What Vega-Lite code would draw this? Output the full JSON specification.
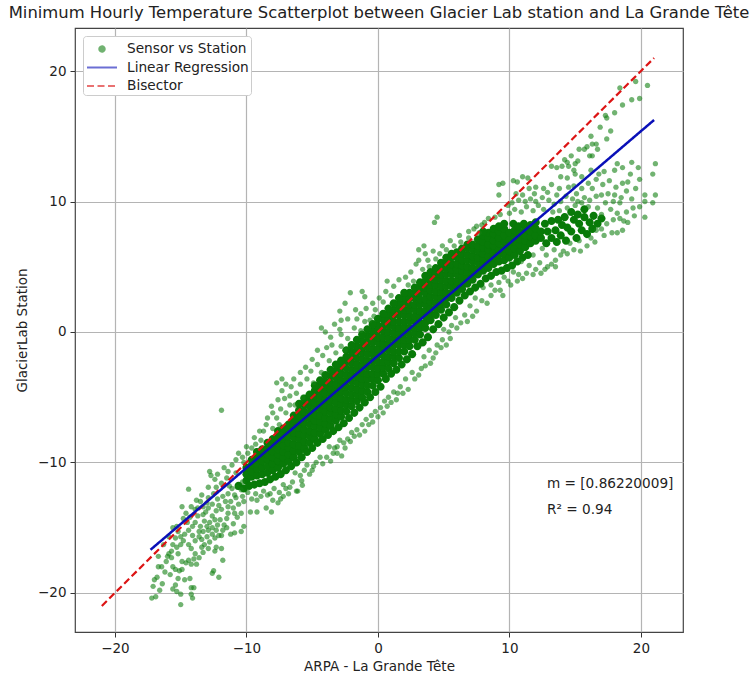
{"$schema":"https://vega.github.io/schema/vega-lite/v6.json","width":608,"height":604,"autosize":"none","padding":{"left":75,"top":28,"right":68,"bottom":45},"background":"white",
"title":{"text":"Minimum Hourly Temperature Scatterplot between Glacier Lab station and La Grande Tête","font":"DejaVu Sans","fontSize":16.4,"fontWeight":"normal","color":"#222","offset":7,"anchor":"middle"},
"config":{"font":"DejaVu Sans","view":{"stroke":"#444","strokeWidth":1.2}},
"datasets":{
"core":[
{"x":-10.0,"y":-11.4},{"x":-10.0,"y":-10.9},{"x":-10.0,"y":-10.4},{"x":-9.6,"y":-11.1},{"x":-9.6,"y":-10.7},{"x":-9.6,"y":-10.2},{"x":-9.6,"y":-9.8},{"x":-9.2,"y":-11.0},{"x":-9.2,"y":-10.5},{"x":-9.2,"y":-10.1},{"x":-9.2,"y":-9.6},{"x":-9.2,"y":-9.2},{"x":-8.8,"y":-10.9},{"x":-8.8,"y":-10.4},{"x":-8.8,"y":-9.9},{"x":-8.8,"y":-9.5},{"x":-8.8,"y":-9.0},{"x":-8.4,"y":-10.8},{"x":-8.4,"y":-10.3},{"x":-8.4,"y":-9.8},{"x":-8.4,"y":-9.4},{"x":-8.4,"y":-8.9},{"x":-8.4,"y":-8.5},{"x":-8.0,"y":-10.6},{"x":-8.0,"y":-10.1},{"x":-8.0,"y":-9.6},{"x":-8.0,"y":-9.2},{"x":-8.0,"y":-8.7},{"x":-8.0,"y":-8.2},{"x":-7.6,"y":-10.4},{"x":-7.6,"y":-9.9},{"x":-7.6,"y":-9.4},{"x":-7.6,"y":-9.0},{"x":-7.6,"y":-8.5},{"x":-7.6,"y":-8.1},{"x":-7.6,"y":-7.6},{"x":-7.2,"y":-10.1},{"x":-7.2,"y":-9.6},{"x":-7.2,"y":-9.2},{"x":-7.2,"y":-8.7},{"x":-7.2,"y":-8.2},{"x":-7.2,"y":-7.8},{"x":-7.2,"y":-7.4},{"x":-6.8,"y":-9.9},{"x":-6.8,"y":-9.4},{"x":-6.8,"y":-8.9},{"x":-6.8,"y":-8.5},{"x":-6.8,"y":-8.0},{"x":-6.8,"y":-7.5},{"x":-6.8,"y":-7.1},{"x":-6.4,"y":-9.6},{"x":-6.4,"y":-9.1},{"x":-6.4,"y":-8.6},{"x":-6.4,"y":-8.1},{"x":-6.4,"y":-7.7},{"x":-6.4,"y":-7.2},{"x":-6.4,"y":-6.8},{"x":-6.4,"y":-6.4},{"x":-6.0,"y":-9.2},{"x":-6.0,"y":-8.7},{"x":-6.0,"y":-8.2},{"x":-6.0,"y":-7.8},{"x":-6.0,"y":-7.3},{"x":-6.0,"y":-6.9},{"x":-6.0,"y":-6.4},{"x":-6.0,"y":-6.0},{"x":-5.6,"y":-8.9},{"x":-5.6,"y":-8.4},{"x":-5.6,"y":-7.9},{"x":-5.6,"y":-7.5},{"x":-5.6,"y":-7.0},{"x":-5.6,"y":-6.6},{"x":-5.6,"y":-6.1},{"x":-5.6,"y":-5.6},{"x":-5.2,"y":-8.5},{"x":-5.2,"y":-8.0},{"x":-5.2,"y":-7.6},{"x":-5.2,"y":-7.1},{"x":-5.2,"y":-6.6},{"x":-5.2,"y":-6.2},{"x":-5.2,"y":-5.7},{"x":-5.2,"y":-5.3},{"x":-4.8,"y":-8.2},{"x":-4.8,"y":-7.7},{"x":-4.8,"y":-7.2},{"x":-4.8,"y":-6.8},{"x":-4.8,"y":-6.3},{"x":-4.8,"y":-5.8},{"x":-4.8,"y":-5.4},{"x":-4.8,"y":-4.9},{"x":-4.8,"y":-4.5},{"x":-4.4,"y":-7.8},{"x":-4.4,"y":-7.3},{"x":-4.4,"y":-6.9},{"x":-4.4,"y":-6.4},{"x":-4.4,"y":-5.9},{"x":-4.4,"y":-5.5},{"x":-4.4,"y":-5.0},{"x":-4.4,"y":-4.5},{"x":-4.4,"y":-4.1},{"x":-4.0,"y":-7.5},{"x":-4.0,"y":-7.0},{"x":-4.0,"y":-6.6},{"x":-4.0,"y":-6.1},{"x":-4.0,"y":-5.6},{"x":-4.0,"y":-5.2},{"x":-4.0,"y":-4.7},{"x":-4.0,"y":-4.2},{"x":-4.0,"y":-3.8},{"x":-3.6,"y":-7.2},{"x":-3.6,"y":-6.7},{"x":-3.6,"y":-6.2},{"x":-3.6,"y":-5.8},{"x":-3.6,"y":-5.3},{"x":-3.6,"y":-4.8},{"x":-3.6,"y":-4.4},{"x":-3.6,"y":-3.9},{"x":-3.6,"y":-3.4},{"x":-3.2,"y":-6.8},{"x":-3.2,"y":-6.3},{"x":-3.2,"y":-5.9},{"x":-3.2,"y":-5.4},{"x":-3.2,"y":-4.9},{"x":-3.2,"y":-4.5},{"x":-3.2,"y":-4.0},{"x":-3.2,"y":-3.5},{"x":-3.2,"y":-3.0},{"x":-2.8,"y":-6.5},{"x":-2.8,"y":-6.0},{"x":-2.8,"y":-5.5},{"x":-2.8,"y":-5.1},{"x":-2.8,"y":-4.6},{"x":-2.8,"y":-4.1},{"x":-2.8,"y":-3.7},{"x":-2.8,"y":-3.2},{"x":-2.8,"y":-2.7},{"x":-2.4,"y":-6.1},{"x":-2.4,"y":-5.6},{"x":-2.4,"y":-5.2},{"x":-2.4,"y":-4.7},{"x":-2.4,"y":-4.2},{"x":-2.4,"y":-3.7},{"x":-2.4,"y":-3.3},{"x":-2.4,"y":-2.8},{"x":-2.4,"y":-2.3},{"x":-2.4,"y":-1.9},{"x":-2.0,"y":-5.7},{"x":-2.0,"y":-5.2},{"x":-2.0,"y":-4.8},{"x":-2.0,"y":-4.3},{"x":-2.0,"y":-3.8},{"x":-2.0,"y":-3.3},{"x":-2.0,"y":-2.9},{"x":-2.0,"y":-2.4},{"x":-2.0,"y":-1.9},{"x":-2.0,"y":-1.5},{"x":-1.6,"y":-5.3},{"x":-1.6,"y":-4.8},{"x":-1.6,"y":-4.4},{"x":-1.6,"y":-3.9},{"x":-1.6,"y":-3.4},{"x":-1.6,"y":-2.9},{"x":-1.6,"y":-2.5},{"x":-1.6,"y":-2.0},{"x":-1.6,"y":-1.5},{"x":-1.6,"y":-1.1},{"x":-1.2,"y":-5.0},{"x":-1.2,"y":-4.5},{"x":-1.2,"y":-4.0},{"x":-1.2,"y":-3.6},{"x":-1.2,"y":-3.1},{"x":-1.2,"y":-2.6},{"x":-1.2,"y":-2.1},{"x":-1.2,"y":-1.6},{"x":-1.2,"y":-1.2},{"x":-1.2,"y":-0.7},{"x":-0.8,"y":-4.6},{"x":-0.8,"y":-4.1},{"x":-0.8,"y":-3.6},{"x":-0.8,"y":-3.2},{"x":-0.8,"y":-2.7},{"x":-0.8,"y":-2.2},{"x":-0.8,"y":-1.7},{"x":-0.8,"y":-1.2},{"x":-0.8,"y":-0.8},{"x":-0.8,"y":-0.3},{"x":-0.4,"y":-4.1},{"x":-0.4,"y":-3.6},{"x":-0.4,"y":-3.2},{"x":-0.4,"y":-2.7},{"x":-0.4,"y":-2.2},{"x":-0.4,"y":-1.7},{"x":-0.4,"y":-1.3},{"x":-0.4,"y":-0.8},{"x":-0.4,"y":-0.3},{"x":-0.4,"y":0.1},{"x":0.0,"y":-3.7},{"x":0.0,"y":-3.2},{"x":0.0,"y":-2.8},{"x":0.0,"y":-2.3},{"x":0.0,"y":-1.8},{"x":0.0,"y":-1.3},{"x":0.0,"y":-0.8},{"x":0.0,"y":-0.4},{"x":0.0,"y":0.1},{"x":0.0,"y":0.5},{"x":0.4,"y":-3.2},{"x":0.4,"y":-2.7},{"x":0.4,"y":-2.3},{"x":0.4,"y":-1.8},{"x":0.4,"y":-1.3},{"x":0.4,"y":-0.9},{"x":0.4,"y":-0.4},{"x":0.4,"y":0.1},{"x":0.4,"y":0.5},{"x":0.4,"y":1.0},{"x":0.8,"y":-2.8},{"x":0.8,"y":-2.3},{"x":0.8,"y":-1.9},{"x":0.8,"y":-1.4},{"x":0.8,"y":-0.9},{"x":0.8,"y":-0.5},{"x":0.8,"y":0.0},{"x":0.8,"y":0.5},{"x":0.8,"y":0.9},{"x":0.8,"y":1.4},{"x":1.2,"y":-2.4},{"x":1.2,"y":-1.9},{"x":1.2,"y":-1.5},{"x":1.2,"y":-1.0},{"x":1.2,"y":-0.5},{"x":1.2,"y":-0.1},{"x":1.2,"y":0.4},{"x":1.2,"y":0.8},{"x":1.2,"y":1.3},{"x":1.2,"y":1.7},{"x":1.6,"y":-2.0},{"x":1.6,"y":-1.5},{"x":1.6,"y":-1.0},{"x":1.6,"y":-0.6},{"x":1.6,"y":-0.1},{"x":1.6,"y":0.3},{"x":1.6,"y":0.8},{"x":1.6,"y":1.3},{"x":1.6,"y":1.7},{"x":1.6,"y":2.1},{"x":2.0,"y":-1.5},{"x":2.0,"y":-1.0},{"x":2.0,"y":-0.6},{"x":2.0,"y":-0.1},{"x":2.0,"y":0.4},{"x":2.0,"y":0.8},{"x":2.0,"y":1.3},{"x":2.0,"y":1.7},{"x":2.0,"y":2.2},{"x":2.0,"y":2.6},{"x":2.4,"y":-1.1},{"x":2.4,"y":-0.6},{"x":2.4,"y":-0.2},{"x":2.4,"y":0.3},{"x":2.4,"y":0.8},{"x":2.4,"y":1.2},{"x":2.4,"y":1.7},{"x":2.4,"y":2.1},{"x":2.4,"y":2.6},{"x":2.4,"y":3.0},{"x":2.8,"y":-0.6},{"x":2.8,"y":-0.1},{"x":2.8,"y":0.3},{"x":2.8,"y":0.8},{"x":2.8,"y":1.2},{"x":2.8,"y":1.7},{"x":2.8,"y":2.1},{"x":2.8,"y":2.6},{"x":2.8,"y":3.0},{"x":2.8,"y":3.4},{"x":3.2,"y":-0.2},{"x":3.2,"y":0.3},{"x":3.2,"y":0.7},{"x":3.2,"y":1.2},{"x":3.2,"y":1.6},{"x":3.2,"y":2.1},{"x":3.2,"y":2.5},{"x":3.2,"y":3.0},{"x":3.2,"y":3.4},{"x":3.2,"y":3.8},{"x":3.6,"y":0.3},{"x":3.6,"y":0.7},{"x":3.6,"y":1.2},{"x":3.6,"y":1.6},{"x":3.6,"y":2.1},{"x":3.6,"y":2.5},{"x":3.6,"y":3.0},{"x":3.6,"y":3.4},{"x":3.6,"y":3.9},{"x":3.6,"y":4.3},{"x":4.0,"y":0.9},{"x":4.0,"y":1.4},{"x":4.0,"y":1.8},{"x":4.0,"y":2.3},{"x":4.0,"y":2.7},{"x":4.0,"y":3.2},{"x":4.0,"y":3.6},{"x":4.0,"y":4.1},{"x":4.0,"y":4.6},{"x":4.4,"y":1.3},{"x":4.4,"y":1.8},{"x":4.4,"y":2.2},{"x":4.4,"y":2.7},{"x":4.4,"y":3.1},{"x":4.4,"y":3.6},{"x":4.4,"y":4.0},{"x":4.4,"y":4.5},{"x":4.4,"y":4.9},{"x":4.8,"y":1.7},{"x":4.8,"y":2.2},{"x":4.8,"y":2.6},{"x":4.8,"y":3.1},{"x":4.8,"y":3.5},{"x":4.8,"y":4.0},{"x":4.8,"y":4.4},{"x":4.8,"y":4.9},{"x":4.8,"y":5.3},{"x":5.2,"y":2.1},{"x":5.2,"y":2.6},{"x":5.2,"y":3.0},{"x":5.2,"y":3.5},{"x":5.2,"y":3.9},{"x":5.2,"y":4.4},{"x":5.2,"y":4.8},{"x":5.2,"y":5.3},{"x":5.2,"y":5.7},{"x":5.6,"y":2.6},{"x":5.6,"y":3.0},{"x":5.6,"y":3.5},{"x":5.6,"y":3.9},{"x":5.6,"y":4.4},{"x":5.6,"y":4.8},{"x":5.6,"y":5.2},{"x":5.6,"y":5.7},{"x":5.6,"y":6.0},{"x":6.0,"y":3.0},{"x":6.0,"y":3.5},{"x":6.0,"y":3.9},{"x":6.0,"y":4.4},{"x":6.0,"y":4.8},{"x":6.0,"y":5.2},{"x":6.0,"y":5.7},{"x":6.0,"y":6.1},{"x":6.4,"y":3.3},{"x":6.4,"y":3.8},{"x":6.4,"y":4.2},{"x":6.4,"y":4.7},{"x":6.4,"y":5.1},{"x":6.4,"y":5.5},{"x":6.4,"y":6.0},{"x":6.4,"y":6.4},{"x":6.8,"y":3.7},{"x":6.8,"y":4.2},{"x":6.8,"y":4.6},{"x":6.8,"y":5.0},{"x":6.8,"y":5.5},{"x":6.8,"y":5.9},{"x":6.8,"y":6.4},{"x":6.8,"y":6.7},{"x":7.2,"y":4.0},{"x":7.2,"y":4.5},{"x":7.2,"y":4.9},{"x":7.2,"y":5.4},{"x":7.2,"y":5.8},{"x":7.2,"y":6.3},{"x":7.2,"y":6.7},{"x":7.6,"y":4.4},{"x":7.6,"y":4.8},{"x":7.6,"y":5.3},{"x":7.6,"y":5.7},{"x":7.6,"y":6.2},{"x":7.6,"y":6.6},{"x":7.6,"y":7.1},{"x":8.0,"y":4.7},{"x":8.0,"y":5.1},{"x":8.0,"y":5.6},{"x":8.0,"y":6.0},{"x":8.0,"y":6.5},{"x":8.0,"y":6.9},{"x":8.0,"y":7.4},{"x":8.4,"y":4.9},{"x":8.4,"y":5.4},{"x":8.4,"y":5.8},{"x":8.4,"y":6.3},{"x":8.4,"y":6.7},{"x":8.4,"y":7.2},{"x":8.4,"y":7.6},{"x":8.8,"y":5.2},{"x":8.8,"y":5.7},{"x":8.8,"y":6.1},{"x":8.8,"y":6.6},{"x":8.8,"y":7.0},{"x":8.8,"y":7.5},{"x":8.8,"y":7.9},{"x":9.2,"y":5.4},{"x":9.2,"y":5.9},{"x":9.2,"y":6.3},{"x":9.2,"y":6.8},{"x":9.2,"y":7.2},{"x":9.2,"y":7.7},{"x":9.6,"y":5.5},{"x":9.6,"y":6.0},{"x":9.6,"y":6.4},{"x":9.6,"y":6.9},{"x":9.6,"y":7.4},{"x":9.6,"y":7.9},{"x":10.0,"y":5.7},{"x":10.0,"y":6.2},{"x":10.0,"y":6.7},{"x":10.0,"y":7.1},{"x":10.0,"y":7.6},{"x":10.4,"y":5.9},{"x":10.4,"y":6.4},{"x":10.4,"y":6.9},{"x":10.4,"y":7.3},{"x":10.4,"y":7.8},{"x":10.8,"y":6.2},{"x":10.8,"y":6.7},{"x":10.8,"y":7.1},{"x":10.8,"y":7.6},{"x":11.2,"y":6.5},{"x":11.2,"y":7.0},{"x":11.2,"y":7.4},{"x":11.2,"y":7.9},{"x":11.6,"y":6.8},{"x":11.6,"y":7.3},{"x":11.6,"y":7.7},{"x":12.0,"y":7.0},{"x":12.0,"y":7.4},{"x":12.0,"y":7.9},{"x":12.4,"y":7.2},{"x":12.4,"y":7.7},{"x":13.5,"y":7.8},{"x":14.0,"y":8.2},{"x":14.4,"y":8.0},{"x":14.9,"y":8.6},{"x":15.3,"y":8.3},{"x":15.7,"y":8.8},{"x":16.1,"y":8.4},{"x":16.4,"y":8.9},
{"x":-10.6,"y":-11.8},{"x":-10.2,"y":-12.0},{"x":-9.8,"y":-11.8},{"x":-9.4,"y":-11.7},{"x":-9.0,"y":-11.6},{"x":-8.6,"y":-11.5},{"x":-8.2,"y":-11.3},{"x":-7.8,"y":-11.1},{"x":-7.4,"y":-10.9},{"x":-7.0,"y":-10.6},{"x":-6.6,"y":-10.3},{"x":-6.2,"y":-10.0},{"x":-5.8,"y":-9.6},{"x":-5.4,"y":-9.2},{"x":-5.0,"y":-8.9},{"x":-4.6,"y":-8.5},{"x":-4.2,"y":-8.2},{"x":-3.8,"y":-7.9},{"x":-3.4,"y":-7.6},{"x":-3.0,"y":-7.3},{"x":-2.6,"y":-7.0},{"x":-2.2,"y":-6.6},{"x":-1.8,"y":-6.2},{"x":-1.4,"y":-5.8},{"x":-1.0,"y":-5.4},{"x":-0.6,"y":-5.0},{"x":-0.2,"y":-4.6},{"x":0.2,"y":-4.2},{"x":0.6,"y":-3.6},{"x":1.0,"y":-3.2},{"x":1.4,"y":-2.9},{"x":1.8,"y":-2.5},{"x":2.2,"y":-2.1},{"x":2.6,"y":-1.7},{"x":3.0,"y":-1.1},{"x":3.4,"y":-0.8},{"x":3.8,"y":-0.4},{"x":4.2,"y":0.2},{"x":4.6,"y":0.6},{"x":5.0,"y":1.1},{"x":5.4,"y":1.5},{"x":5.8,"y":1.9},{"x":6.2,"y":2.4},{"x":6.6,"y":2.8},{"x":7.0,"y":3.1},{"x":7.4,"y":3.4},{"x":7.8,"y":3.7},{"x":8.2,"y":4.1},{"x":8.6,"y":4.3},{"x":9.0,"y":4.6},{"x":9.4,"y":4.7},{"x":9.8,"y":4.9},{"x":10.2,"y":5.1},{"x":10.6,"y":5.4},{"x":11.0,"y":5.7},{"x":11.4,"y":5.9},{"x":-4.0,"y":-3.3},{"x":-3.6,"y":-2.9},{"x":-3.2,"y":-2.5},{"x":-2.8,"y":-2.2},{"x":-2.4,"y":-1.4},{"x":-2.0,"y":-1.0},{"x":-1.6,"y":-0.6},{"x":-1.2,"y":-0.2},{"x":-0.8,"y":0.2},{"x":-0.4,"y":0.6},{"x":0.0,"y":1.0},{"x":0.4,"y":1.4},{"x":0.8,"y":1.8},{"x":1.2,"y":2.2},{"x":1.6,"y":2.6},{"x":2.0,"y":3.0},{"x":-6.0,"y":-5.5},{"x":-5.6,"y":-5.1},{"x":-5.2,"y":-4.8},{"x":-4.8,"y":-4.1},{"x":-4.4,"y":-3.7},{"x":12.8,"y":6.8},{"x":13.2,"y":7.2},{"x":12.9,"y":7.7},{"x":13.6,"y":6.9},{"x":13.9,"y":7.4},{"x":14.3,"y":7.0},{"x":14.7,"y":7.7},{"x":15.1,"y":7.2},{"x":15.5,"y":7.8},{"x":15.9,"y":7.5},{"x":16.3,"y":7.9},{"x":16.7,"y":8.3},{"x":17.0,"y":8.7},{"x":12.7,"y":8.3},{"x":13.2,"y":8.5},{"x":13.7,"y":8.6},{"x":14.2,"y":8.8},{"x":14.7,"y":9.2},{"x":15.2,"y":9.0},{"x":15.7,"y":9.4},{"x":10.3,"y":8.3},{"x":10.7,"y":8.1},{"x":11.1,"y":8.3},{"x":11.6,"y":8.2},{"x":12.0,"y":8.4},{"x":9.2,"y":8.1},{"x":9.6,"y":8.3},{"x":8.0,"y":7.7}
],
"edge":[
{"x":-11.9,"y":-6.0},{"x":-14.4,"y":-12.05},{"x":-14.9,"y":-13.4},{"x":-15.0,"y":-20.9},{"x":-17.2,"y":-20.4},{"x":-16.9,"y":-20.3},{"x":-17.1,"y":-19.5},{"x":-16.6,"y":-19.8},{"x":-16.4,"y":-19.3},{"x":-17.0,"y":-19.0},{"x":-16.8,"y":-18.8},{"x":-16.7,"y":-18.0},{"x":-16.45,"y":-18.0},{"x":-15.8,"y":-18.6},{"x":-15.4,"y":-19.4},{"x":-15.6,"y":-19.7},{"x":-15.3,"y":-19.9},{"x":-15.0,"y":-20.1},{"x":-14.2,"y":-20.1},{"x":-14.1,"y":-20.4},{"x":-14.2,"y":-19.6},{"x":-14.0,"y":-19.6},{"x":-15.2,"y":-18.9},{"x":-14.7,"y":-19.0},{"x":-14.3,"y":-18.9},{"x":-15.4,"y":-18.2},{"x":-15.1,"y":-18.3},{"x":-14.9,"y":-18.2},{"x":-12.1,"y":-18.8},{"x":-12.6,"y":-18.5},{"x":-12.5,"y":-18.3},{"x":-11.8,"y":-17.5},{"x":-11.9,"y":-16.6},{"x":-12.4,"y":-16.8},{"x":-12.3,"y":-16.5},{"x":-16.7,"y":-17.2},{"x":-16.0,"y":-17.2},{"x":-15.9,"y":-17.0},{"x":-15.7,"y":-17.3},{"x":-16.1,"y":-17.6},{"x":-15.6,"y":-16.3},{"x":-15.7,"y":-16.8},{"x":-15.3,"y":-16.5},{"x":-15.2,"y":-17.0},{"x":-15.0,"y":-16.3},{"x":-14.9,"y":-17.6},{"x":-14.6,"y":-17.7},{"x":-14.4,"y":-17.5},{"x":-14.2,"y":-17.8},{"x":-14.0,"y":-17.4},{"x":-13.8,"y":-17.8},{"x":-13.6,"y":-17.3},{"x":-13.3,"y":-16.9},{"x":-15.2,"y":-15.3},{"x":-15.0,"y":-15.7},{"x":-14.7,"y":-15.5},{"x":-14.4,"y":-16.3},{"x":-14.2,"y":-16.6},{"x":-14.1,"y":-15.6},{"x":-13.9,"y":-16.0},{"x":-13.6,"y":-15.7},{"x":-13.4,"y":-15.9},{"x":-13.2,"y":-16.3},{"x":-13.0,"y":-15.7},{"x":-12.8,"y":-16.1},{"x":-12.6,"y":-15.5},{"x":-12.4,"y":-15.8},{"x":-12.1,"y":-15.6},{"x":-11.9,"y":-15.6},{"x":-13.5,"y":-14.9},{"x":-13.2,"y":-14.5},{"x":-13.0,"y":-14.9},{"x":-12.8,"y":-14.6},{"x":-12.6,"y":-15.0},{"x":-12.4,"y":-14.4},{"x":-12.2,"y":-14.8},{"x":-12.0,"y":-14.4},{"x":-11.7,"y":-14.8},{"x":-11.5,"y":-14.3},{"x":-11.8,"y":-15.2},{"x":-10.2,"y":-14.9},{"x":-10.4,"y":-15.3},{"x":-10.9,"y":-15.4},{"x":-11.2,"y":-15.5},{"x":-10.7,"y":-14.2},{"x":-10.4,"y":-13.9},{"x":-13.1,"y":-13.8},{"x":-12.9,"y":-13.5},{"x":-12.6,"y":-13.2},{"x":-12.3,"y":-13.7},{"x":-12.1,"y":-13.3},{"x":-11.9,"y":-13.6},{"x":-11.6,"y":-13.0},{"x":-11.4,"y":-13.4},{"x":-11.2,"y":-13.0},{"x":-11.0,"y":-13.5},{"x":-10.8,"y":-12.7},{"x":-10.6,"y":-13.2},{"x":-10.3,"y":-12.6},{"x":-10.2,"y":-13.0},{"x":-13.9,"y":-13.6},{"x":-13.7,"y":-14.1},{"x":-12.2,"y":-12.8},{"x":-11.8,"y":-12.6},{"x":-11.4,"y":-12.4},{"x":-11.1,"y":-12.0},{"x":-10.7,"y":-11.9},{"x":-10.4,"y":-12.1},{"x":-10.9,"y":-12.5},{"x":-10.3,"y":-11.5},{"x":-11.3,"y":-11.8},{"x":-9.7,"y":-13.8},{"x":-9.2,"y":-13.8},{"x":-9.6,"y":-12.8},{"x":-9.2,"y":-12.9},{"x":-8.9,"y":-12.6},{"x":-8.5,"y":-13.5},{"x":-8.1,"y":-13.8},{"x":-7.6,"y":-13.1},{"x":-8.4,"y":-12.5},{"x":-8.0,"y":-12.9},{"x":-7.9,"y":-12.0},{"x":-7.5,"y":-12.3},{"x":-7.2,"y":-11.7},{"x":-9.9,"y":-12.3},{"x":-6.5,"y":-11.5},{"x":-6.2,"y":-12.2},{"x":-6.1,"y":-12.2},{"x":-5.8,"y":-11.4},{"x":-5.75,"y":-11.75},{"x":-6.3,"y":-10.8},{"x":-5.6,"y":-10.6},{"x":-5.4,"y":-10.2},{"x":-5.0,"y":-10.6},{"x":-4.7,"y":-10.0},{"x":-4.4,"y":-9.6},{"x":-3.4,"y":-9.3},{"x":-3.1,"y":-9.3},{"x":-2.76,"y":-9.5},{"x":-3.7,"y":-8.8},{"x":-3.1,"y":-8.8},{"x":-2.6,"y":-8.5},{"x":-2.3,"y":-8.2},{"x":-2.0,"y":-7.7},{"x":-1.6,"y":-7.5},{"x":-1.2,"y":-7.1},{"x":-0.9,"y":-6.7},{"x":-0.5,"y":-6.4},{"x":-0.2,"y":-6.1},{"x":0.2,"y":-5.8},{"x":0.5,"y":-5.3},{"x":0.8,"y":-5.0},{"x":1.2,"y":-4.6},{"x":1.5,"y":-4.7},{"x":1.7,"y":-4.2},{"x":2.1,"y":-3.6},{"x":2.6,"y":-3.1},{"x":3.3,"y":-2.8},{"x":3.5,"y":-1.9},{"x":3.9,"y":-1.4},{"x":4.2,"y":-2.0},{"x":4.5,"y":-1.0},{"x":4.9,"y":-0.6},{"x":5.5,"y":-0.5},{"x":5.0,"y":0.2},{"x":5.6,"y":0.5},{"x":5.9,"y":1.1},{"x":6.3,"y":0.7},{"x":6.6,"y":1.3},{"x":7.0,"y":2.0},{"x":7.5,"y":1.6},{"x":7.4,"y":2.6},{"x":8.6,"y":2.8},{"x":9.5,"y":2.8},{"x":8.0,"y":3.4},{"x":8.6,"y":3.6},{"x":9.2,"y":3.8},{"x":9.6,"y":4.2},{"x":9.9,"y":3.9},{"x":10.3,"y":4.6},{"x":10.7,"y":4.4},{"x":11.3,"y":4.5},{"x":11.5,"y":5.1},{"x":12.0,"y":4.8},{"x":12.4,"y":4.5},{"x":13.2,"y":5.2},{"x":12.9,"y":5.0},{"x":13.5,"y":5.5},{"x":14.1,"y":6.2},{"x":14.6,"y":6.8},{"x":15.9,"y":6.6},{"x":15.3,"y":7.0},{"x":16.2,"y":7.2},{"x":13.4,"y":6.3},{"x":12.8,"y":5.9},{"x":12.5,"y":6.4},{"x":11.8,"y":5.9},{"x":10.9,"y":5.4},{"x":16.6,"y":7.8},{"x":17.0,"y":7.9},{"x":17.8,"y":7.6},{"x":18.2,"y":7.6},{"x":17.4,"y":8.3},{"x":17.9,"y":8.6},{"x":18.4,"y":8.7},{"x":18.7,"y":8.5},{"x":18.9,"y":9.2},{"x":18.2,"y":9.1},{"x":17.7,"y":9.4},{"x":17.0,"y":9.0},{"x":17.3,"y":9.9},{"x":16.7,"y":9.5},{"x":16.0,"y":9.6},{"x":10.0,"y":9.1},{"x":10.4,"y":9.4},{"x":10.9,"y":9.2},{"x":11.3,"y":9.6},{"x":11.8,"y":9.3},{"x":12.2,"y":9.7},{"x":12.6,"y":9.4},{"x":13.3,"y":9.2},{"x":13.8,"y":9.3},{"x":14.4,"y":9.5},{"x":15.0,"y":9.7},{"x":15.5,"y":9.9},{"x":10.2,"y":9.9},{"x":10.7,"y":10.1},{"x":11.2,"y":10.0},{"x":11.6,"y":10.2},{"x":12.0,"y":10.0},{"x":12.5,"y":10.3},{"x":13.0,"y":10.1},{"x":13.4,"y":9.8},{"x":13.9,"y":10.0},{"x":14.3,"y":10.4},{"x":14.8,"y":10.2},{"x":15.2,"y":10.0},{"x":15.7,"y":10.3},{"x":16.1,"y":10.1},{"x":16.6,"y":10.4},{"x":17.0,"y":10.5},{"x":17.5,"y":10.6},{"x":18.0,"y":10.5},{"x":18.5,"y":10.3},{"x":18.9,"y":10.8},{"x":19.3,"y":10.2},{"x":19.6,"y":11.0},{"x":18.6,"y":11.4},{"x":18.1,"y":11.1},{"x":17.6,"y":11.6},{"x":17.1,"y":11.3},{"x":16.6,"y":11.7},{"x":16.0,"y":11.4},{"x":15.5,"y":11.0},{"x":14.9,"y":11.2},{"x":14.5,"y":11.1},{"x":13.8,"y":11.0},{"x":13.2,"y":11.3},{"x":12.6,"y":11.0},{"x":12.0,"y":11.1},{"x":11.5,"y":11.0},{"x":10.3,"y":11.6},{"x":10.6,"y":11.5},{"x":9.2,"y":10.5},{"x":9.2,"y":11.3},{"x":9.5,"y":11.4},{"x":11.0,"y":11.9},{"x":11.4,"y":11.8},{"x":21.1,"y":12.9},{"x":20.9,"y":12.1},{"x":21.1,"y":10.5},{"x":20.3,"y":10.5},{"x":20.9,"y":9.9},{"x":20.3,"y":10.0},{"x":20.3,"y":8.8},{"x":19.8,"y":12.6},{"x":19.3,"y":13.0},{"x":18.2,"y":12.9},{"x":18.6,"y":12.6},{"x":18.0,"y":12.4},{"x":19.9,"y":11.7},{"x":19.2,"y":12.1},{"x":19.0,"y":11.5},{"x":17.2,"y":12.3},{"x":16.8,"y":12.1},{"x":16.2,"y":12.4},{"x":15.5,"y":11.9},{"x":15.0,"y":12.1},{"x":14.4,"y":11.8},{"x":13.9,"y":11.9},{"x":14.7,"y":13.5},{"x":14.2,"y":13.2},{"x":15.0,"y":12.9},{"x":13.2,"y":12.7},{"x":13.6,"y":12.6},{"x":14.5,"y":12.7},{"x":15.2,"y":13.1},{"x":14.9,"y":12.4},{"x":14.0,"y":12.7},{"x":14.4,"y":13.0},{"x":20.5,"y":18.9},{"x":19.6,"y":19.2},{"x":18.4,"y":18.7},{"x":19.9,"y":17.9},{"x":19.3,"y":17.8},{"x":18.6,"y":17.4},{"x":18.0,"y":16.8},{"x":17.3,"y":16.6},{"x":17.4,"y":16.4},{"x":16.9,"y":15.7},{"x":17.7,"y":15.4},{"x":16.2,"y":15.0},{"x":17.4,"y":14.8},{"x":15.3,"y":14.0},{"x":15.7,"y":14.0},{"x":15.9,"y":14.2},{"x":16.3,"y":14.4},{"x":16.6,"y":14.4},{"x":16.7,"y":14.0},{"x":16.1,"y":13.5},{"x":16.3,"y":13.5},{"x":4.5,"y":8.8},{"x":4.3,"y":8.4},{"x":7.3,"y":7.9},{"x":7.5,"y":8.1},{"x":8.1,"y":8.4},{"x":3.5,"y":6.6},{"x":3.1,"y":6.3},{"x":3.6,"y":6.0},{"x":3.8,"y":5.5},{"x":2.9,"y":5.2},{"x":3.4,"y":4.8},{"x":0.7,"y":3.9},{"x":1.6,"y":4.0},{"x":2.7,"y":3.9},{"x":5.2,"y":6.3},{"x":5.8,"y":6.6},{"x":6.3,"y":6.9},{"x":6.9,"y":7.2},{"x":7.7,"y":7.6},{"x":4.4,"y":5.6},{"x":4.7,"y":6.0},{"x":2.3,"y":3.6},{"x":1.0,"y":2.8},{"x":0.4,"y":2.3},{"x":-2.1,"y":3.0},{"x":-1.2,"y":3.1},{"x":-1.0,"y":2.7},{"x":-2.5,"y":2.2},{"x":-2.9,"y":1.6},{"x":-0.2,"y":1.7},{"x":-2.8,"y":0.9},{"x":-2.3,"y":1.0},{"x":-4.3,"y":0.3},{"x":-4.0,"y":0.0},{"x":-2.8,"y":-0.2},{"x":-1.6,"y":1.0},{"x":-1.3,"y":1.4},{"x":-1.0,"y":0.8},{"x":-0.6,"y":0.9},{"x":-1.8,"y":0.3},{"x":-1.3,"y":0.1},{"x":-2.3,"y":-0.5},{"x":-3.5,"y":-1.0},{"x":-3.2,"y":-1.6},{"x":-2.8,"y":-1.1},{"x":-2.5,"y":-1.4},{"x":-4.2,"y":-1.8},{"x":-3.7,"y":-2.2},{"x":-4.6,"y":-2.5},{"x":-4.3,"y":-3.1},{"x":-5.1,"y":-3.0},{"x":-5.4,"y":-3.6},{"x":-4.9,"y":-3.9},{"x":-5.9,"y":-4.0},{"x":-6.2,"y":-4.7},{"x":-5.7,"y":-5.0},{"x":-6.4,"y":-3.6},{"x":-7.7,"y":-3.9},{"x":-7.3,"y":-3.6},{"x":-7.3,"y":-4.5},{"x":-7.1,"y":-5.1},{"x":-6.7,"y":-4.9},{"x":-6.7,"y":-5.6},{"x":-6.3,"y":-5.6},{"x":-7.4,"y":-5.9},{"x":-7.0,"y":-6.2},{"x":-8.1,"y":-5.7},{"x":-8.4,"y":-6.6},{"x":-7.7,"y":-6.6},{"x":-8.0,"y":-7.4},{"x":-7.5,"y":-7.1},{"x":-8.7,"y":-7.6},{"x":-8.9,"y":-8.3},{"x":-9.3,"y":-8.6},{"x":-9.6,"y":-8.9},{"x":-9.9,"y":-9.3},{"x":-10.3,"y":-9.6},{"x":-10.8,"y":-9.8},{"x":-10.2,"y":-10.0},{"x":-11.4,"y":-10.7},{"x":-10.8,"y":-10.8},{"x":-12.8,"y":-10.7},{"x":-12.7,"y":-11.0},{"x":-12.4,"y":-11.3},{"x":-12.3,"y":-11.9},{"x":-11.9,"y":-11.6},{"x":-11.5,"y":-11.2},{"x":-13.6,"y":-15.3},{"x":-14.5,"y":-14.6},{"x":-14.1,"y":-14.9},{"x":-13.5,"y":-13.0},{"x":-13.3,"y":-13.4},{"x":-12.9,"y":-12.7},{"x":-15.6,"y":-15.0},{"x":-14.6,"y":-13.9},
{"x":-9.3,"y":-12.4},{"x":-8.7,"y":-12.2},{"x":-8.2,"y":-12.4},{"x":-7.4,"y":-12.8},{"x":-7.0,"y":-12.0},{"x":-6.7,"y":-11.9},{"x":-6.8,"y":-12.4},{"x":-7.2,"y":-12.6},{"x":-5.9,"y":-11.0},{"x":-5.2,"y":-10.9},{"x":-4.9,"y":-10.3},{"x":-4.2,"y":-10.1},{"x":-3.9,"y":-9.6},{"x":-3.6,"y":-9.9},{"x":-3.3,"y":-8.9},{"x":-2.9,"y":-8.3},{"x":-2.5,"y":-8.9},{"x":-2.1,"y":-8.4},{"x":-1.8,"y":-8.0},{"x":-1.4,"y":-7.9},{"x":-1.0,"y":-7.6},{"x":-0.7,"y":-7.1},{"x":-0.4,"y":-6.9},{"x":0.0,"y":-6.5},{"x":0.4,"y":-6.2},{"x":0.7,"y":-5.7},{"x":1.0,"y":-5.4},{"x":1.4,"y":-5.2},{"x":1.9,"y":-4.7},{"x":2.3,"y":-4.4},{"x":2.8,"y":-3.6},{"x":3.1,"y":-3.3},{"x":3.6,"y":-2.6},{"x":4.0,"y":-2.4},{"x":4.4,"y":-1.6},{"x":4.8,"y":-1.2},{"x":5.2,"y":-1.0},{"x":5.4,"y":0.0},{"x":6.0,"y":0.3},{"x":6.8,"y":0.8},{"x":7.2,"y":1.2},{"x":7.9,"y":2.4},{"x":8.3,"y":2.2},{"x":8.9,"y":3.2},{"x":9.3,"y":3.2},{"x":10.1,"y":3.6},{"x":10.6,"y":3.9},{"x":11.0,"y":4.1},{"x":11.8,"y":4.4},{"x":12.3,"y":5.3},{"x":12.7,"y":4.8},{"x":13.5,"y":5.0},{"x":13.9,"y":5.9},{"x":14.4,"y":6.0},{"x":14.9,"y":6.3},{"x":15.4,"y":6.2},{"x":16.5,"y":6.9},{"x":17.2,"y":7.4},{"x":18.6,"y":7.8},{"x":19.0,"y":8.4},{"x":19.5,"y":8.9},{"x":19.9,"y":9.6},{"x":19.4,"y":9.5},{"x":18.4,"y":9.9},{"x":17.9,"y":10.0},{"x":16.3,"y":11.0},{"x":15.1,"y":10.6},{"x":13.6,"y":10.5},{"x":12.9,"y":10.7},{"x":11.9,"y":10.6},{"x":11.0,"y":10.5},{"x":10.5,"y":10.6},{"x":9.9,"y":9.7},{"x":9.3,"y":9.0},{"x":8.9,"y":8.8},{"x":8.4,"y":8.7},{"x":7.9,"y":8.2},{"x":6.9,"y":7.7},{"x":6.2,"y":7.4},{"x":5.5,"y":7.0},{"x":4.9,"y":6.6},{"x":4.2,"y":6.2},{"x":3.9,"y":5.0},{"x":3.1,"y":5.5},{"x":2.5,"y":4.6},{"x":2.1,"y":4.2},{"x":1.2,"y":3.5},{"x":0.6,"y":3.1},{"x":0.1,"y":2.6},{"x":-0.4,"y":2.2},{"x":-0.9,"y":1.8},{"x":-1.7,"y":1.7},{"x":-0.3,"y":1.2},{"x":-3.3,"y":0.6},{"x":-2.9,"y":0.2},{"x":-3.6,"y":-0.4},{"x":-3.9,"y":-1.2},{"x":-4.6,"y":-1.4},{"x":-5.0,"y":-2.1},{"x":-5.5,"y":-2.7},{"x":-5.9,"y":-3.1},{"x":-6.6,"y":-4.2},{"x":-7.0,"y":-4.0},{"x":-7.6,"y":-5.2},{"x":-8.0,"y":-6.2},{"x":-8.5,"y":-7.1},{"x":-9.0,"y":-7.6},{"x":-9.4,"y":-8.1},{"x":-10.0,"y":-8.8},{"x":-10.6,"y":-9.3},{"x":-11.1,"y":-10.2},{"x":-11.7,"y":-10.4},{"x":-12.2,"y":-10.9},{"x":-12.9,"y":-11.9},{"x":-13.4,"y":-12.5},{"x":-13.8,"y":-12.9},{"x":-14.2,"y":-13.4},{"x":-14.8,"y":-14.3},{"x":-15.3,"y":-14.9},{"x":-15.9,"y":-15.7},{"x":-16.3,"y":-16.3},{"x":-13.0,"y":-13.1},{"x":-12.5,"y":-12.4},{"x":-13.7,"y":-13.5},{"x":-14.3,"y":-14.2},{"x":-13.9,"y":-14.6},{"x":-13.3,"y":-15.3},{"x":-12.9,"y":-15.2},{"x":-12.3,"y":-15.2},{"x":-11.5,"y":-15.0},{"x":-11.0,"y":-14.7},{"x":-10.9,"y":-13.9},{"x":-11.4,"y":-13.9},{"x":-12.6,"y":-14.1},{"x":-13.3,"y":-14.0},{"x":-14.4,"y":-15.2},{"x":-14.8,"y":-16.0},{"x":-15.4,"y":-15.8},{"x":-16.2,"y":-18.4},{"x":-15.6,"y":-18.0},{"x":-13.9,"y":-17.0},{"x":-13.4,"y":-16.5},{"x":-12.9,"y":-16.6}
],
"reg":[{"x":-17.3,"y":-16.7},{"x":21.0,"y":16.25}],
"bis":[{"x":-21,"y":-21},{"x":21,"y":21}],
"notes":[{"x":12.85,"y":-11.65,"t":"m = [0.86220009]"},{"x":12.85,"y":-13.65,"t":"R² = 0.94"}]
},
"layer":[
{"data":{"name":"core"},"mark":{"type":"point","filled":true,"opacity":1,"size":900,"strokeWidth":0,"shape":"M-0.27,0a0.27,0.27 0 1,0 0.54,0a0.27,0.27 0 1,0 -0.54,0","color":"#087a08"},
"encoding":{"x":{"field":"x","type":"quantitative"},"y":{"field":"y","type":"quantitative"}}},
{"data":{"name":"edge"},"mark":{"type":"point","filled":true,"opacity":0.6,"size":400,"strokeWidth":0,"clip":true},
"encoding":{
"x":{"field":"x","type":"quantitative","scale":{"domain":[-23.04,23.2],"nice":false,"zero":false},
"axis":{"title":"ARPA - La Grande Tête","titleFont":"DejaVu Sans","titleFontSize":13.5,"titleFontWeight":"normal","titleColor":"#222","titlePadding":5,"values":[-20,-10,0,10,20],"format":"d","labelExpr":"replace(datum.label,'-','−')","labelFontSize":13.5,"labelColor":"#222","labelPadding":4,"tickColor":"#333","tickSize":5,"domain":false,"grid":true,"gridColor":"#b4b4b4","gridWidth":1.2,"labelFlush":false}},
"y":{"field":"y","type":"quantitative","scale":{"domain":[-23.0,23.3],"nice":false,"zero":false},
"axis":{"title":"GlacierLab Station","titleFont":"DejaVu Sans","titleFontSize":13.5,"titleFontWeight":"normal","titleColor":"#222","titlePadding":8,"values":[-20,-10,0,10,20],"format":"d","labelExpr":"replace(datum.label,'-','−')","labelFontSize":13.5,"labelColor":"#222","labelPadding":4,"tickColor":"#333","tickSize":5,"domain":false,"grid":true,"gridColor":"#b4b4b4","gridWidth":1.2}},
"color":{"datum":"Sensor vs Station","type":"nominal","scale":{"domain":["Sensor vs Station","Linear Regression","Bisector"],"range":["#138013","#0a10b8","#dc1414"]},
"legend":{"title":null,"orient":"none","legendX":8,"legendY":8,"fillColor":"white","strokeColor":"#cccccc","cornerRadius":3,"padding":2,"labelFont":"DejaVu Sans","labelFontSize":13.7,"labelColor":"#222","symbolSize":400,"symbolStrokeWidth":2,"symbolOffset":6,"symbolOpacity":1,"rowPadding":0.5,"labelOffset":14}},
"shape":{"datum":"Sensor vs Station","type":"nominal","scale":{"domain":["Sensor vs Station","Linear Regression","Bisector"],"range":["M-0.27,0a0.27,0.27 0 1,0 0.54,0a0.27,0.27 0 1,0 -0.54,0","M-1.5,0H1.5","M-1.5,0H1.5"]}},
"strokeDash":{"datum":"Sensor vs Station","type":"nominal","scale":{"domain":["Sensor vs Station","Linear Regression","Bisector"],"range":[[1,0],[1,0],[7,3.5]]}}
}},
{"data":{"name":"bis"},"mark":{"type":"line","strokeWidth":2.2,"clip":true},
"encoding":{"x":{"field":"x","type":"quantitative"},"y":{"field":"y","type":"quantitative"},
"color":{"datum":"Bisector","type":"nominal"},"strokeDash":{"datum":"Bisector","type":"nominal"}}},
{"data":{"name":"reg"},"mark":{"type":"line","strokeWidth":2.5,"clip":true},
"encoding":{"x":{"field":"x","type":"quantitative"},"y":{"field":"y","type":"quantitative"},
"color":{"datum":"Linear Regression","type":"nominal"},"strokeDash":{"datum":"Linear Regression","type":"nominal"}}},
{"data":{"name":"notes"},"mark":{"type":"text","align":"left","baseline":"middle","font":"DejaVu Sans","fontSize":13.65,"color":"#222"},
"encoding":{"x":{"field":"x","type":"quantitative"},"y":{"field":"y","type":"quantitative"},"text":{"field":"t"}}}
]}
